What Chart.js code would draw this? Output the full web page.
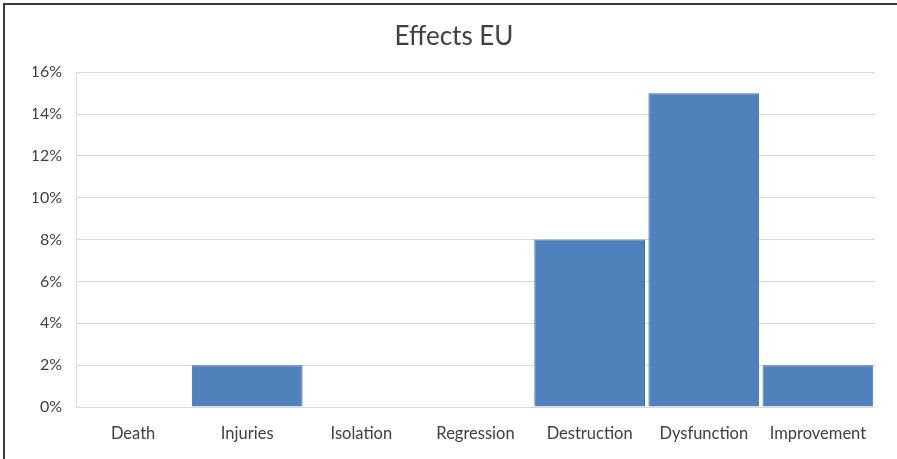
<!DOCTYPE html>
<html>
<head>
<meta charset="utf-8">
<script src="https://cdn.jsdelivr.net/npm/chart.js@4/dist/chart.umd.min.js"></script>
<style>
  html, body { margin: 0; padding: 0; background: #fff; }
  #wrap { position: relative; width: 897px; height: 459px; }
  #frame { position: absolute; left: 3px; top: 3px; right: 0; bottom: 0;
           border-left: 2px solid #3a3a3a; border-top: 2px solid #3a3a3a;
           pointer-events: none; box-sizing: border-box; }
</style>
</head>
<body>
<div id="wrap">
  <canvas id="c" width="897" height="459"></canvas>
  <div id="frame"></div>
</div>
<script>
// Share of reported effects per category
const categories = ['Death', 'Injuries', 'Isolation', 'Regression', 'Destruction', 'Dysfunction', 'Improvement'];
const effectShare = [0, 2, 0, 0, 8, 15, 2];
const yTicks = [0, 2, 4, 6, 8, 10, 12, 14, 16];

const font = 'Lato, "Open Sans", sans-serif';

new Chart(document.getElementById('c'), {
  type: 'bar',
  data: {
    labels: categories,
    datasets: [{
      label: 'Effects EU',
      data: effectShare,
      backgroundColor: '#4f81bd',
      borderColor: '#3f6fa8',
      borderWidth: 1,
      barPercentage: 0.97,
      categoryPercentage: 1.0
    }]
  },
  options: {
    responsive: false,
    animation: false,
    layout: { padding: { left: 33, right: 22, top: 0, bottom: 0 } },
    plugins: {
      legend: { display: false },
      tooltip: { enabled: false },
      title: {
        display: true,
        text: 'Effects EU',
        color: '#404040',
        font: { family: font, size: 26, weight: 'normal' },
        padding: { top: 21, bottom: 20 }
      }
    },
    scales: {
      x: {
        grid: { display: false, drawTicks: false },
        border: { display: false },
        ticks: { color: '#404040', font: { family: font, size: 16.5 }, padding: 17, maxRotation: 0 },
        afterFit: (s) => { s.height = 52; }
      },
      y: {
        min: 0,
        max: 16,
        afterBuildTicks: (s) => { s.ticks = yTicks.map(v => ({ value: v })); },
        grid: { color: '#d9d9d9', lineWidth: 1, drawTicks: false },
        border: { display: true, color: '#d9d9d9' },
        ticks: {
          color: '#404040',
          font: { family: font, size: 16 },
          padding: 14,
          callback: (v) => v + '%'
        },
        afterFit: (s) => { s.width = 43; }
      }
    }
  }
});
</script>
</body>
</html>
